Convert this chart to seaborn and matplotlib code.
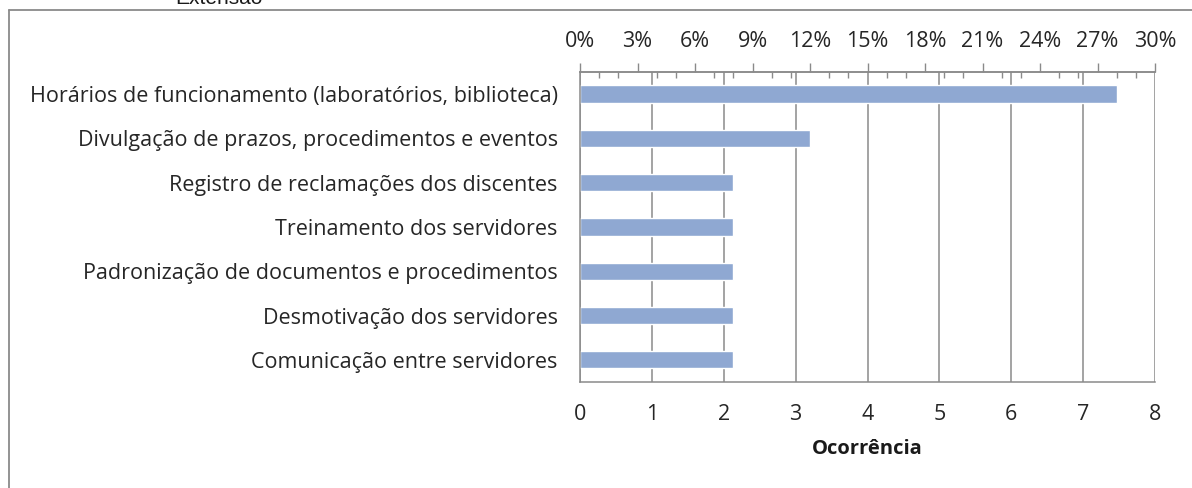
import matplotlib
matplotlib.use('Agg')
import matplotlib.pyplot as plt
import seaborn as sns
import pandas as pd
from matplotlib.ticker import FixedLocator, FuncFormatter
from matplotlib.lines import Line2D

# dados: ocorrências e percentual de cada problema (total de 25 respostas)
problemas = [
    'Horários de funcionamento (laboratórios, biblioteca)',
    'Divulgação de prazos, procedimentos e eventos',
    'Registro de reclamações dos discentes',
    'Treinamento dos servidores',
    'Padronização de documentos e procedimentos',
    'Desmotivação dos servidores',
    'Comunicação entre servidores',
]
ocorrencias = [7, 3, 2, 2, 2, 2, 2]
percentual = [28, 12, 8, 8, 8, 8, 8]

max_ocorr = 8
max_pct = 30

df = pd.DataFrame({'problema': problemas, 'ocorrencia': ocorrencias, 'pct': percentual})

sns.set_style('white')
plt.rcParams['font.family'] = ['Open Sans', 'DejaVu Sans']

tam = 15.5
cor_txt = '#262626'

fig = plt.figure(figsize=(11.92, 4.88), dpi=100)
ax = fig.add_axes([0.4866, 0.2172, 0.9690 - 0.4866, 0.8525 - 0.2172])

sns.barplot(data=df, x='pct', y='problema', color='#8FA8D2', width=0.39,
            saturation=1, ax=ax)

cinza = '#8a8a8a'
ax.set_xlim(0, max_pct)
# eixo inferior em ocorrências (0 a 8) sobre a mesma escala
ax.xaxis.set_major_locator(FixedLocator([i * max_pct / max_ocorr for i in range(max_ocorr + 1)]))
ax.xaxis.set_major_formatter(FuncFormatter(lambda v, p: f'{v * max_ocorr / max_pct:.0f}'))
ax.grid(axis='x', color=cinza, linewidth=1.1)
ax.set_axisbelow(True)
ax.tick_params(axis='x', length=0, pad=16, labelsize=tam, labelcolor=cor_txt)
ax.tick_params(axis='y', length=0, pad=16, labelsize=tam, labelcolor=cor_txt)
ax.set_ylabel('')
ax.set_xlabel('Ocorrência', fontsize=tam - 1, fontweight='bold', color='#1a1a1a', labelpad=10)

for s in ['left', 'bottom', 'top']:
    ax.spines[s].set_color(cinza)
    ax.spines[s].set_linewidth(1.1)
ax.spines['right'].set_visible(False)

# eixo superior em percentual
sec = ax.secondary_xaxis('top')
sec.xaxis.set_major_locator(FixedLocator(list(range(0, max_pct + 1, 3))))
sec.xaxis.set_minor_locator(FixedLocator(list(range(0, max_pct + 1))))
sec.xaxis.set_major_formatter(FuncFormatter(lambda v, p: f'{v:.0f}%'))
sec.spines['top'].set_color(cinza)
sec.spines['top'].set_linewidth(1.1)
sec.tick_params(which='major', direction='out', length=6.5, width=1, color=cinza,
                pad=8, labelsize=tam, labelcolor=cor_txt)
sec.tick_params(which='minor', direction='in', length=4, width=1, color=cinza)

# moldura e título cortado
fig.add_artist(Line2D([0.0075, 1.0], [0.979, 0.979], color=cinza, linewidth=1.3))
fig.add_artist(Line2D([0.0075, 0.0075], [0.0, 0.979], color=cinza, linewidth=1.3))
fig.text(0.184, 0.992, 'Extensão', fontsize=15, family='Liberation Sans',
         ha='center', va='baseline', color='#1a1a1a')

fig.savefig('out.png', dpi=100)
